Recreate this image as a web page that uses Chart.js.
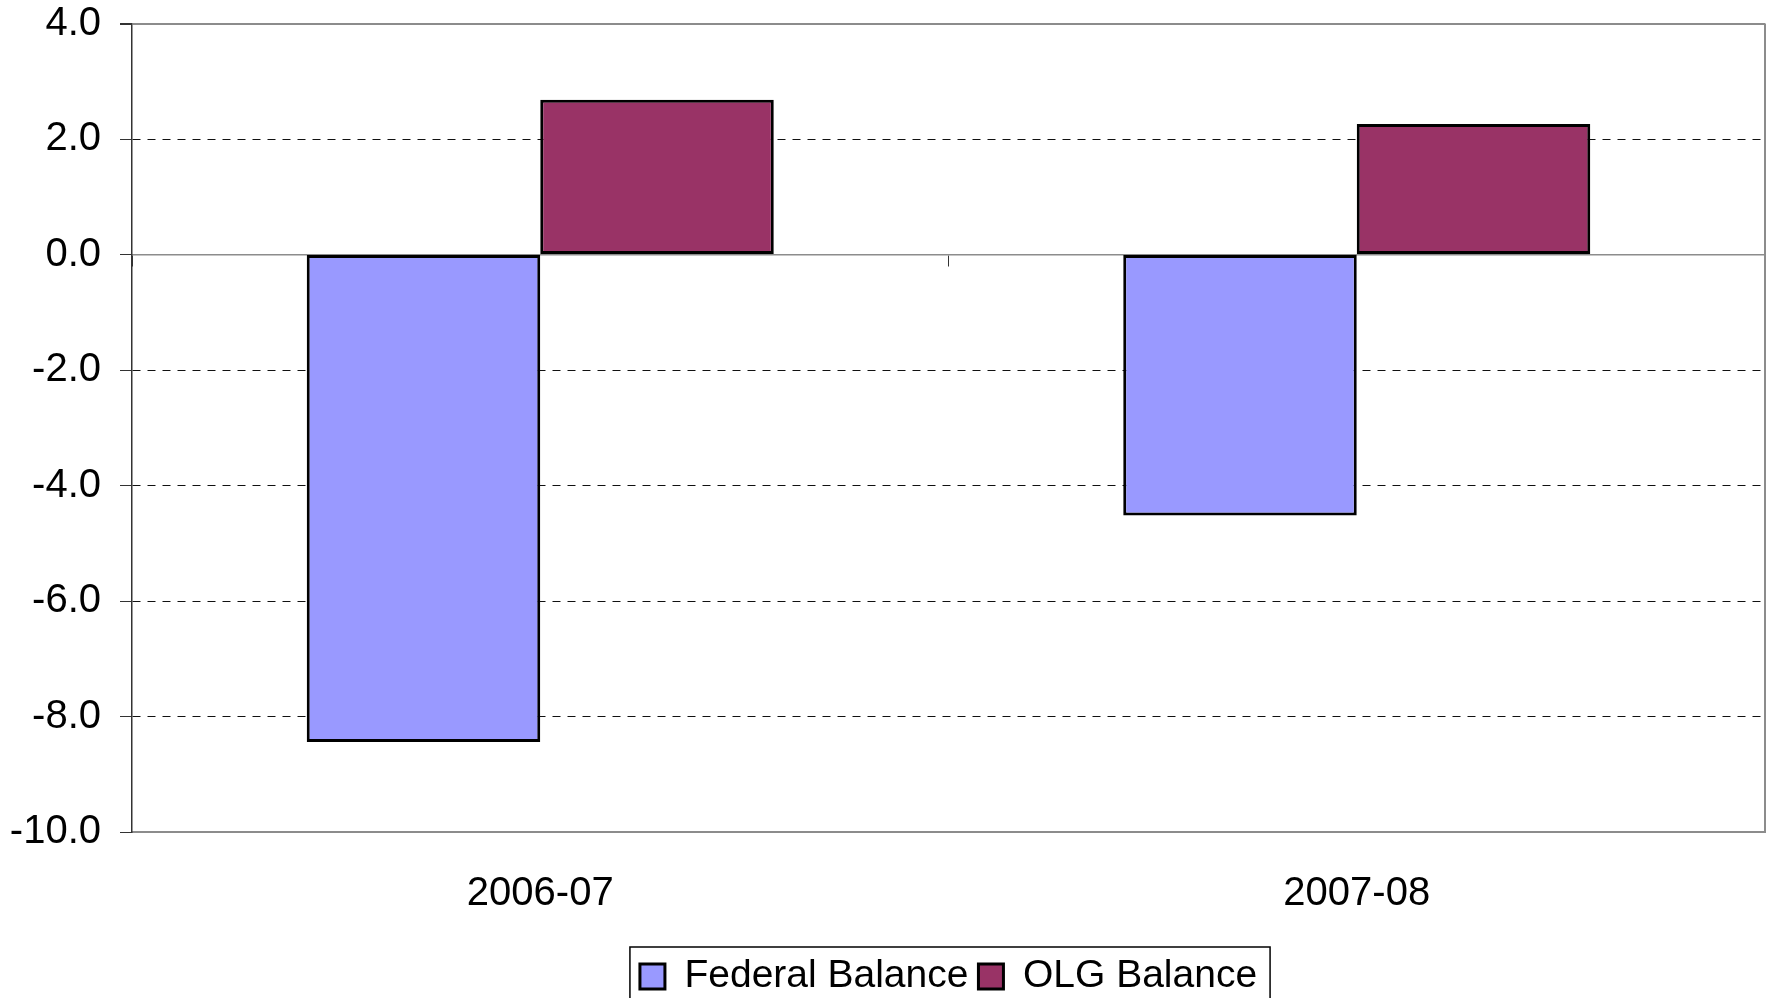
<!DOCTYPE html>
<html>
<head>
<meta charset="utf-8">
<script src="https://cdn.jsdelivr.net/npm/chart.js@4"></script>
<style>
  html, body { margin: 0; padding: 0; background: #fff; }
  .container { width: 1773px; height: 998px; }
</style>
</head>
<body>
<div class="container">
  <canvas id="myChart"></canvas>
</div>
<script>
const labels = ['2006-07', '2007-08'];
const federalBalance = [-8.44, -4.52];
const olgBalance = [2.68, 2.26];
const yTicks = [4, 2, 0, -2, -4, -6, -8, -10];

const fontFamily = '"Liberation Sans", Arial, sans-serif';

// box round the legend and right edge of plot area
const frames = {
  id: 'frames',
  beforeDatasetsDraw(chart) {
    const { ctx, chartArea } = chart;
    ctx.save();
    ctx.strokeStyle = '#8c8c8c';
    ctx.lineWidth = 2;
    ctx.beginPath();
    ctx.moveTo(chartArea.right, chartArea.top);
    ctx.lineTo(chartArea.right, chartArea.bottom);
    ctx.stroke();
    ctx.restore();
  },
  afterDraw(chart) {
    const hb = chart.legend.legendHitBoxes;
    if (!hb || !hb.length) return;
    const first = hb[0];
    const last = hb[hb.length - 1];
    const ctx = chart.ctx;
    ctx.save();
    ctx.strokeStyle = '#000';
    ctx.lineWidth = 1.5;
    ctx.strokeRect(first.left - 10, first.top - 10, last.left + last.width - first.left + 23, 120);
    ctx.restore();
  }
};

const data = {
  labels: labels,
  datasets: [
    {
      label: 'Federal Balance',
      data: federalBalance,
      backgroundColor: '#9999ff',
      borderColor: '#000',
      borderWidth: 3,
      borderSkipped: false,
      xAxisID: 'x',
      yAxisID: 'y'
    },
    {
      label: 'OLG Balance',
      data: olgBalance,
      backgroundColor: '#993366',
      borderColor: '#000',
      borderWidth: 3,
      borderSkipped: false,
      xAxisID: 'x',
      yAxisID: 'y'
    }
  ]
};

const ctx = document.getElementById('myChart');
const myChart = new Chart(ctx, {
  type: 'bar',
  data: data,
  plugins: [frames],
  options: {
    responsive: true,
    maintainAspectRatio: false,
    animation: false,
    datasets: {
      bar: { barPercentage: 1, categoryPercentage: 0.572 }
    },
    layout: {
      padding: { top: 23.5, right: 8, left: 0, bottom: 0 }
    },
    plugins: {
      tooltip: { enabled: false },
      legend: {
        position: 'bottom',
        fullSize: false,
        maxHeight: 51,
        labels: {
          color: '#000',
          font: { size: 39, family: fontFamily },
          boxWidth: 25,
          boxHeight: 25,
          padding: 10
        }
      }
    },
    scales: {
      x: {
        position: 'bottom',
        afterFit: (scale) => { scale.height = 115; },
        grid: { drawOnChartArea: false, drawTicks: false },
        border: { color: '#8c8c8c', width: 2 },
        ticks: {
          color: '#000',
          padding: 37.5,
          font: { size: 40, family: fontFamily }
        }
      },
      x0: {
        type: 'category',
        position: { y: 0 },
        offset: true,
        grid: {
          offset: true,
          drawOnChartArea: false,
          drawTicks: true,
          tickLength: 11,
          tickColor: '#333'
        },
        border: { color: '#8c8c8c', width: 1.5 },
        ticks: { display: false }
      },
      y: {
        min: -10,
        max: 4,
        afterFit: (scale) => {
          scale.width = 132;
          scale.paddingTop = 0;
          scale.paddingBottom = 0;
        },
        afterBuildTicks: (scale) => {
          scale.ticks = yTicks.map(v => ({ value: v }));
        },
        grid: {
          color: (c) => {
            const v = c.tick ? c.tick.value : null;
            if (v === 0 || v === -10) return 'rgba(0,0,0,0)';
            if (v === 4) return '#8c8c8c';
            return '#111';
          },
          lineWidth: (c) => (c.tick && c.tick.value === 4 ? 2 : 1),
          tickLength: 12,
          tickColor: '#333',
          tickBorderDash: []
        },
        border: {
          color: '#333',
          width: 1.5,
          dash: (c) => (c.tick && (c.tick.value === 4) ? [] : [8, 7])
        },
        ticks: {
          color: '#000',
          padding: 19,
          font: { size: 40, family: fontFamily },
          callback: (v) => Number(v).toFixed(1)
        }
      }
    }
  }
});
</script>
</body>
</html>
